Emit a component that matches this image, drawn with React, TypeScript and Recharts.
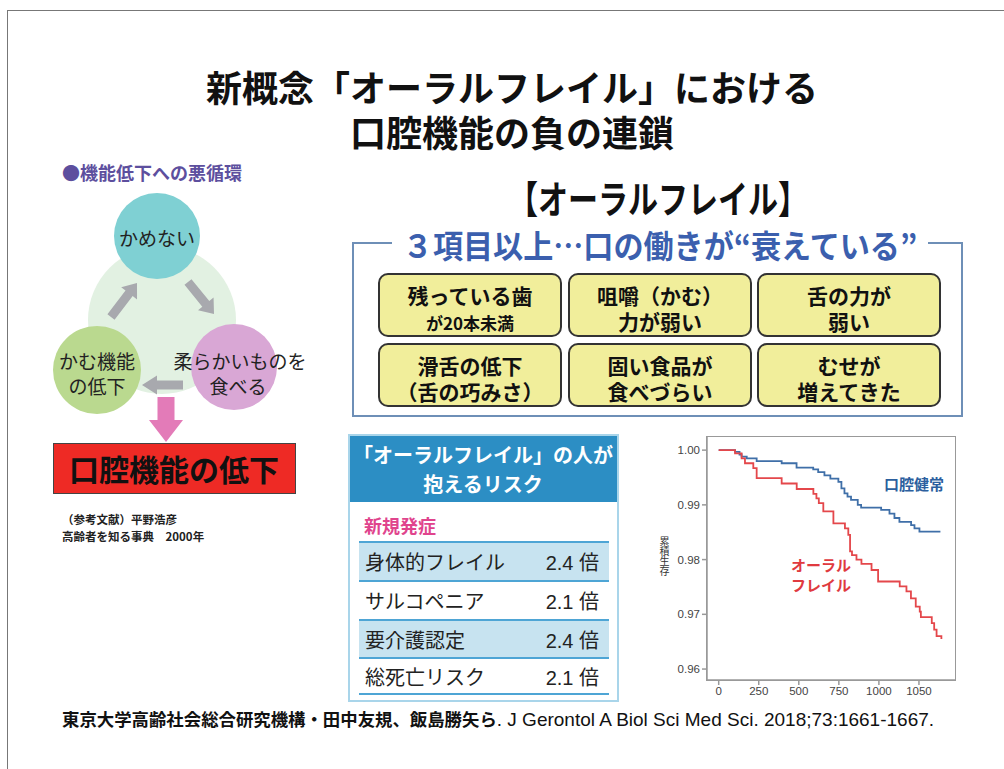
import React from "react";
import { LineChart, Line, XAxis, YAxis } from "recharts";

// Kaplan-Meier curves (days, cumulative survival)
const healthyDays = [0, 102, 130, 143, 175, 237, 393, 486, 590, 621, 660, 697, 747, 766, 785, 804, 826, 868, 889, 1014, 1066, 1097, 1128, 1201, 1222, 1253, 1384];
const healthySurvival = [1.0, 0.9997, 0.9992, 0.9988, 0.9985, 0.998, 0.9976, 0.9968, 0.9965, 0.996, 0.9954, 0.9948, 0.9942, 0.993, 0.9921, 0.9915, 0.9909, 0.99, 0.9895, 0.9891, 0.9884, 0.9876, 0.9869, 0.9863, 0.9857, 0.9851, 0.9851];

const frailDays = [0, 102, 143, 164, 216, 237, 393, 487, 591, 610, 625, 653, 716, 788, 809, 820, 832, 860, 891, 954, 995, 1130, 1172, 1200, 1230, 1255, 1262, 1330, 1345, 1360, 1390];
const frailSurvival = [1.0, 0.9994, 0.9985, 0.9976, 0.9967, 0.9949, 0.9939, 0.9929, 0.992, 0.9912, 0.9903, 0.9888, 0.9866, 0.9857, 0.9845, 0.9815, 0.9808, 0.98, 0.9792, 0.9781, 0.976, 0.9751, 0.9742, 0.9729, 0.9714, 0.9705, 0.9695, 0.9684, 0.9672, 0.966, 0.9655];

const xTicks = [0, 250, 500, 750, 1000, 1250];
const xTickLabels = ["0", "250", "500", "750", "1000", "1050"];
const yTicks = [0.96, 0.97, 0.98, 0.99, 1.0];

const signs = [
  ["残っている歯", "が20本未満"],
  ["咀嚼（かむ）", "力が弱い"],
  ["舌の力が", "弱い"],
  ["滑舌の低下", "（舌の巧みさ）"],
  ["固い食品が", "食べづらい"],
  ["むせが", "増えてきた"],
];

const risks = ["身体的フレイル", "サルコペニア", "要介護認定", "総死亡リスク"];
const riskRatios = ["2.4", "2.1", "2.4", "2.1"];

const CJK = '"Noto Sans CJK JP", sans-serif';
const SANS = '"Liberation Sans", Arial, "Noto Sans CJK JP", sans-serif';

function T({ cx, cy, size, color = "#111", weight = 700, scaleX = 1, font = CJK, w = 700, children }: any) {
  const h = Math.round(size * 1.05);
  return (
    <div
      style={{
        position: "absolute",
        left: cx - w / 2,
        top: cy - h / 2,
        width: w,
        height: h,
        lineHeight: `${h}px`,
        textAlign: "center",
        fontSize: size,
        fontWeight: weight,
        color,
        fontFamily: font,
        whiteSpace: "nowrap",
        transform: scaleX !== 1 ? `scaleX(${scaleX})` : undefined,
      }}
    >
      {children}
    </div>
  );
}

function arrow(x1: number, y1: number, x2: number, y2: number, sw: number, hw: number, hl: number) {
  const dx = x2 - x1;
  const dy = y2 - y1;
  const len = Math.hypot(dx, dy);
  const ux = dx / len;
  const uy = dy / len;
  const px = -uy;
  const py = ux;
  const bx = x2 - ux * hl;
  const by = y2 - uy * hl;
  const pts = [
    [x1 + (px * sw) / 2, y1 + (py * sw) / 2],
    [bx + (px * sw) / 2, by + (py * sw) / 2],
    [bx + (px * hw) / 2, by + (py * hw) / 2],
    [x2, y2],
    [bx - (px * hw) / 2, by - (py * hw) / 2],
    [bx - (px * sw) / 2, by - (py * sw) / 2],
    [x1 - (px * sw) / 2, y1 - (py * sw) / 2],
  ];
  return pts.map((p) => p.join(",")).join(" ");
}

function SurvivalChart() {
  const healthy = healthyDays.map((t, i) => ({ t, s: healthySurvival[i] }));
  const frail = frailDays.map((t, i) => ({ t, s: frailSurvival[i] }));
  const tickStyle = { fontSize: 11.5, fill: "#444", fontFamily: SANS };
  return (
    <LineChart width={300} height={280} margin={{ top: 7, right: 5, left: 7, bottom: 5 }}>
      <XAxis
        dataKey="t"
        type="number"
        domain={[-73, 1475]}
        ticks={xTicks}
        tickFormatter={(v, i) => xTickLabels[i] ?? String(v)}
        tick={tickStyle}
        tickSize={5}
        tickMargin={2}
        height={25}
        stroke="#999"
        strokeWidth={1.5}
        allowDataOverflow
      />
      <YAxis
        type="number"
        domain={[0.958, 1.0024]}
        ticks={yTicks}
        tickFormatter={(v) => Number(v).toFixed(2)}
        tick={tickStyle}
        tickSize={5}
        tickMargin={2}
        width={40}
        stroke="#999"
        strokeWidth={1.5}
        allowDataOverflow
      />
      <Line data={healthy} dataKey="s" type="stepAfter" stroke="#3f6fa8" strokeWidth={1.8} dot={false} isAnimationActive={false} />
      <Line data={frail} dataKey="s" type="stepAfter" stroke="#e4474b" strokeWidth={1.8} dot={false} isAnimationActive={false} />
    </LineChart>
  );
}

export default function App() {
  const colX = [378, 568, 757];
  const rowY = [273, 343];
  const rowEdges = [541, 580, 619, 657, 695];
  return (
    <div style={{ position: "absolute", left: 0, top: 0, width: 1004, height: 769, background: "#fff", overflow: "hidden", fontFamily: CJK }}>
      {/* slide frame */}
      <div style={{ position: "absolute", left: 7, top: 10, width: 1010, height: 780, borderTop: "1.5px solid #777", borderLeft: "1.5px solid #777" }} />

      {/* title */}
      <T cx={512} cy={86} size={36}>新概念「オーラルフレイル」における</T>
      <T cx={512} cy={131} size={36}>口腔機能の負の連鎖</T>

      {/* vicious cycle diagram */}
      <div style={{ position: "absolute", left: 62, top: 162, fontSize: 18, lineHeight: "20px", fontWeight: 700, color: "#5d4f9e", whiteSpace: "nowrap" }}>●機能低下への悪循環</div>
      <svg width={340} height={360} style={{ position: "absolute", left: 0, top: 150 }}>
        <g transform="translate(0,-150)">
          <circle cx={162} cy={320} r={74} fill="#e2f1e2" />
          <circle cx={157} cy={236} r={43} fill="#7fd0d3" />
          <circle cx={97} cy={370} r={44} fill="#bad98f" />
          <circle cx={234} cy={367} r={43} fill="#d9a7d5" />
          <polygon points={arrow(111, 317, 137, 283, 9, 20, 13)} fill="#a8a9ae" />
          <polygon points={arrow(188, 282, 214, 314, 9, 20, 13)} fill="#a8a9ae" />
          <polygon points={arrow(183, 385, 142, 385, 9, 19, 15)} fill="#a8a9ae" />
          <polygon points={arrow(166, 397, 166, 442, 17, 34, 22)} fill="#e37bb8" />
        </g>
      </svg>
      <T cx={157} cy={238} size={19} weight={400} color="#222">かめない</T>
      <T cx={97} cy={361} size={19} weight={400} color="#222">かむ機能</T>
      <T cx={97} cy={386} size={19} weight={400} color="#222">の低下</T>
      <T cx={240} cy={361} size={19} weight={400} color="#222">柔らかいものを</T>
      <T cx={238} cy={386} size={19} weight={400} color="#222">食べる</T>
      <div style={{ position: "absolute", left: 53, top: 443, width: 241, height: 49, background: "#ee2a25", border: "1px solid #444" }} />
      <T cx={174} cy={468} size={30}>口腔機能の低下</T>
      <div style={{ position: "absolute", left: 62, top: 511, fontSize: 11.5, lineHeight: "17px", fontWeight: 700, color: "#222", whiteSpace: "pre" }}>
        {"（参考文献）平野浩彦\n高齢者を知る事典　2000年"}
      </div>

      {/* oral frailty criteria */}
      <T cx={658} cy={197} size={38} scaleX={0.79}>【オーラルフレイル】</T>
      <div style={{ position: "absolute", left: 352, top: 242, width: 40, height: 0, borderTop: "2px solid #6e8fb7" }} />
      <div style={{ position: "absolute", left: 928, top: 242, width: 33, height: 0, borderTop: "2px solid #6e8fb7" }} />
      <div style={{ position: "absolute", left: 352, top: 242, width: 607, height: 173, borderLeft: "2px solid #6e8fb7", borderRight: "2px solid #6e8fb7", borderBottom: "2px solid #6e8fb7" }} />
      <T cx={660} cy={244} size={32} scaleX={0.94} color="#3b5fae">３項目以上…口の働きが“衰えている”</T>
      {signs.map((s, i) => {
        const x = colX[i % 3];
        const y = rowY[Math.floor(i / 3)];
        const small = i === 0;
        return (
          <React.Fragment key={s[0]}>
            <div style={{ position: "absolute", left: x, top: y, width: 180, height: 60, background: "#f1ee9b", border: "2px solid #333", borderRadius: 10 }} />
            <T cx={x + 92} cy={y + 22} size={21} w={176}>{s[0]}</T>
            <T cx={x + 92} cy={y + (small ? 50 : 48)} size={small ? 17 : 21} w={176}>{s[1]}</T>
          </React.Fragment>
        );
      })}

      {/* risk table */}
      <div style={{ position: "absolute", left: 348, top: 434, width: 267, height: 264, border: "2px solid #a9d5ea" }} />
      <div style={{ position: "absolute", left: 350, top: 436, width: 267, height: 66, background: "#2c8ec4" }} />
      <T cx={483} cy={454} size={20} color="#fff" w={260}>「オーラルフレイル」の人が</T>
      <T cx={483} cy={483} size={20} color="#fff" w={260}>抱えるリスク</T>
      <div style={{ position: "absolute", left: 364, top: 514, fontSize: 18, lineHeight: "22px", fontWeight: 700, color: "#e0448d" }}>新規発症</div>
      {risks.map((r, i) => (
        <div
          key={r}
          style={{
            position: "absolute",
            left: 359,
            top: rowEdges[i],
            width: 250,
            height: rowEdges[i + 1] - rowEdges[i],
            background: i % 2 === 0 ? "#c7e3f0" : "#fff",
            borderTop: "2px solid #4ea5d5",
            borderBottom: i === risks.length - 1 ? "2px solid #4ea5d5" : undefined,
            boxSizing: "border-box",
            display: "flex",
            alignItems: "center",
            justifyContent: "space-between",
            padding: "0 10px 0 6px",
            fontSize: 20,
            color: "#222",
            fontFamily: SANS,
          }}
        >
          <span style={{ fontFamily: CJK }}>{r}</span>
          <span>
            {riskRatios[i]} <span style={{ fontFamily: CJK }}>倍</span>
          </span>
        </div>
      ))}

      {/* survival chart */}
      <div style={{ position: "absolute", left: 660, top: 430, width: 300, height: 280 }}>
        <SurvivalChart />
      </div>
      {/* plot frame */}
      <div style={{ position: "absolute", left: 706, top: 436, width: 248, height: 243, border: "1.5px solid #999", pointerEvents: "none" }} />
      <div style={{ position: "absolute", left: 659, top: 536, fontSize: 10, lineHeight: "11px", color: "#333", writingMode: "vertical-rl", textOrientation: "upright" }}>累積生存</div>
      <T cx={914} cy={484} size={15} color="#2c5f9e" w={80}>口腔健常</T>
      <T cx={821} cy={565} size={15} color="#e03a3f" w={80}>オーラル</T>
      <T cx={821} cy={585} size={15} color="#e03a3f" w={80}>フレイル</T>

      {/* source */}
      <div style={{ position: "absolute", left: 62, top: 708, lineHeight: "22px", color: "#111", whiteSpace: "nowrap", fontFamily: SANS, fontSize: 19 }}>
        <span style={{ fontFamily: CJK, fontWeight: 700, fontSize: 17.4 }}>東京大学高齢社会総合研究機構・田中友規、飯島勝矢ら</span>. J Gerontol A Biol Sci Med Sci. 2018;73:1661-1667.
      </div>
    </div>
  );
}
